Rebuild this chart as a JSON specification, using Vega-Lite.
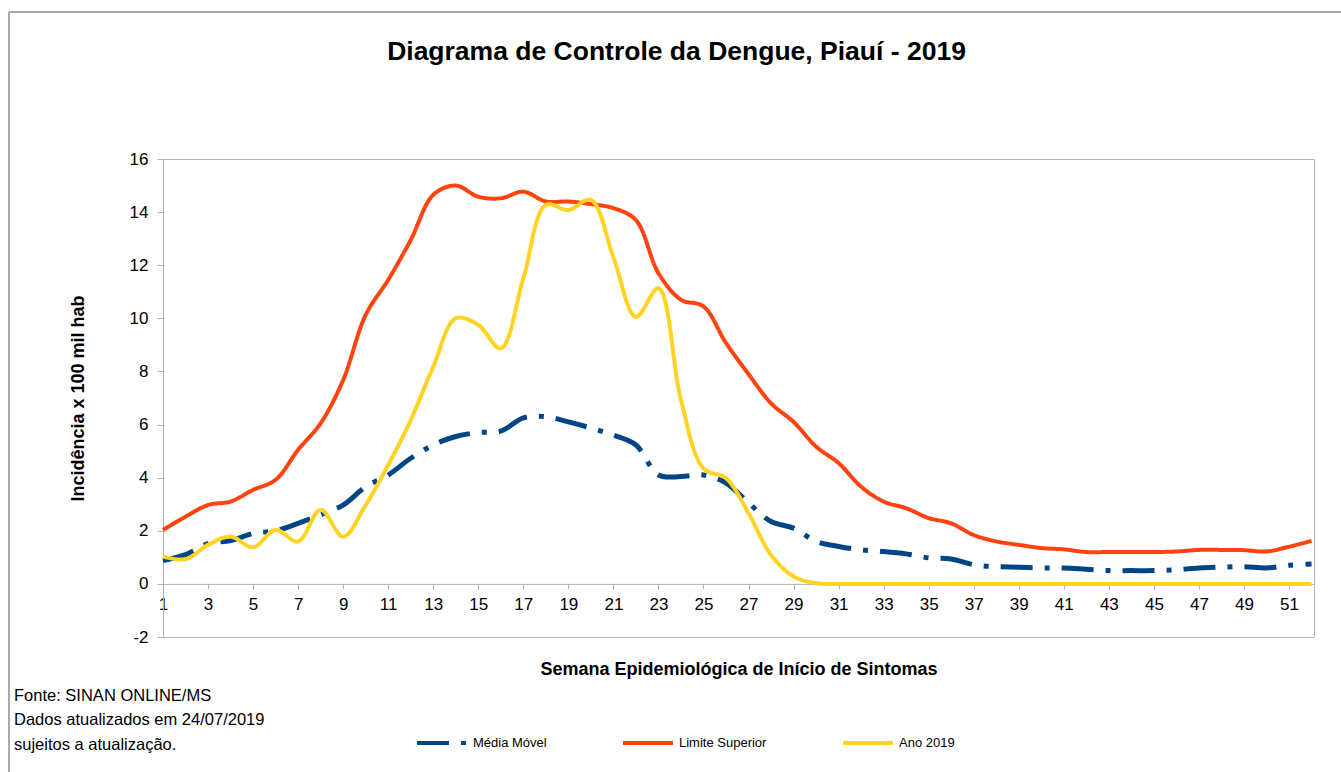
{
  "$schema": "https://vega.github.io/schema/vega-lite/v6.json",
  "width": 1151,
  "height": 478,
  "autosize": "none",
  "padding": {"left": 163, "top": 159, "right": 27, "bottom": 135},
  "background": "white",
  "title": {
    "text": "Diagrama de Controle da Dengue, Piauí - 2019",
    "font": "Liberation Sans",
    "fontSize": 26.5,
    "fontWeight": "bold",
    "color": "black",
    "anchor": "middle",
    "frame": "group",
    "dx": -62,
    "baseline": "alphabetic",
    "offset": -76
  },
  "config": {
    "view": {"stroke": "#b3b3b3", "strokeWidth": 1},
    "axis": {
      "labelFont": "Liberation Sans",
      "labelFontSize": 17,
      "labelColor": "black",
      "titleFont": "Liberation Sans",
      "titleFontSize": 18,
      "titleFontWeight": "bold",
      "titleColor": "black",
      "domainColor": "#b3b3b3",
      "tickColor": "#b3b3b3",
      "gridColor": "#b3b3b3",
      "labelFlush": false,
      "labelOverlap": false
    }
  },
  "datasets": {
    "semanas": [
      {"s": 1, "media": 0.88, "limite": 2.03, "ano": 1.03},
      {"s": 2, "media": 1.1, "limite": 2.53, "ano": 0.93},
      {"s": 3, "media": 1.52, "limite": 2.97, "ano": 1.47},
      {"s": 4, "media": 1.63, "limite": 3.1, "ano": 1.78},
      {"s": 5, "media": 1.9, "limite": 3.54, "ano": 1.38},
      {"s": 6, "media": 2.0, "limite": 3.92, "ano": 2.03},
      {"s": 7, "media": 2.28, "limite": 5.05, "ano": 1.6},
      {"s": 8, "media": 2.6, "limite": 6.05, "ano": 2.79},
      {"s": 9, "media": 2.97, "limite": 7.68, "ano": 1.78},
      {"s": 10, "media": 3.66, "limite": 10.13, "ano": 2.97},
      {"s": 11, "media": 4.1, "limite": 11.45, "ano": 4.48},
      {"s": 12, "media": 4.73, "limite": 12.95, "ano": 6.17},
      {"s": 13, "media": 5.23, "limite": 14.65, "ano": 8.18},
      {"s": 14, "media": 5.55, "limite": 15.0, "ano": 10.0},
      {"s": 15, "media": 5.7, "limite": 14.58, "ano": 9.75},
      {"s": 16, "media": 5.75, "limite": 14.52, "ano": 8.87},
      {"s": 17, "media": 6.25, "limite": 14.77, "ano": 11.5},
      {"s": 18, "media": 6.3, "limite": 14.4, "ano": 14.27},
      {"s": 19, "media": 6.1, "limite": 14.4, "ano": 14.08},
      {"s": 20, "media": 5.87, "limite": 14.3, "ano": 14.46},
      {"s": 21, "media": 5.6, "limite": 14.15, "ano": 12.3},
      {"s": 22, "media": 5.23, "limite": 13.7, "ano": 10.06},
      {"s": 23, "media": 4.1, "limite": 11.7, "ano": 11.13},
      {"s": 24, "media": 4.04, "limite": 10.7, "ano": 6.93},
      {"s": 25, "media": 4.1, "limite": 10.45, "ano": 4.35},
      {"s": 26, "media": 3.8, "limite": 9.07, "ano": 3.98},
      {"s": 27, "media": 3.05, "limite": 7.9, "ano": 2.66},
      {"s": 28, "media": 2.35, "limite": 6.8, "ano": 1.09},
      {"s": 29, "media": 2.1, "limite": 6.1, "ano": 0.28},
      {"s": 30, "media": 1.6, "limite": 5.17, "ano": 0.03},
      {"s": 31, "media": 1.41, "limite": 4.55, "ano": 0},
      {"s": 32, "media": 1.28, "limite": 3.66, "ano": 0},
      {"s": 33, "media": 1.22, "limite": 3.1, "ano": 0},
      {"s": 34, "media": 1.13, "limite": 2.85, "ano": 0},
      {"s": 35, "media": 0.98, "limite": 2.48, "ano": 0},
      {"s": 36, "media": 0.94, "limite": 2.28, "ano": 0},
      {"s": 37, "media": 0.72, "limite": 1.84, "ano": 0},
      {"s": 38, "media": 0.65, "limite": 1.6, "ano": 0},
      {"s": 39, "media": 0.63, "limite": 1.47, "ano": 0},
      {"s": 40, "media": 0.6, "limite": 1.35, "ano": 0},
      {"s": 41, "media": 0.6, "limite": 1.3, "ano": 0},
      {"s": 42, "media": 0.55, "limite": 1.2, "ano": 0},
      {"s": 43, "media": 0.5, "limite": 1.2, "ano": 0},
      {"s": 44, "media": 0.5, "limite": 1.2, "ano": 0},
      {"s": 45, "media": 0.5, "limite": 1.2, "ano": 0},
      {"s": 46, "media": 0.53, "limite": 1.22, "ano": 0},
      {"s": 47, "media": 0.6, "limite": 1.28, "ano": 0},
      {"s": 48, "media": 0.63, "limite": 1.28, "ano": 0},
      {"s": 49, "media": 0.65, "limite": 1.27, "ano": 0},
      {"s": 50, "media": 0.6, "limite": 1.22, "ano": 0},
      {"s": 51, "media": 0.7, "limite": 1.4, "ano": 0},
      {"s": 52, "media": 0.75, "limite": 1.62, "ano": 0}
    ],
    "nota": [
      {"nota": "Fonte: SINAN ONLINE/MS|Dados atualizados  em 24/07/2019|sujeitos a atualização."}
    ]
  },
  "layer": [
    {
      "data": {"name": "nota"},
      "mark": {"type": "rule", "stroke": "#aaaaaa", "strokeWidth": 2, "clip": false},
      "encoding": {
        "x": {"datum": -5.838},
        "x2": {"datum": 60},
        "y": {"datum": 21.54}
      }
    },
    {
      "data": {"name": "nota"},
      "mark": {"type": "rule", "stroke": "#aaaaaa", "strokeWidth": 2, "clip": false},
      "encoding": {
        "x": {"datum": -5.838},
        "y": {"datum": 21.54},
        "y2": {"datum": -8}
      }
    },
    {
      "data": {"name": "semanas"},
      "mark": {"type": "line", "interpolate": "catmull-rom", "strokeWidth": 5, "strokeCap": "butt"},
      "encoding": {
        "x": {
          "field": "s",
          "type": "quantitative",
          "scale": {"domain": [1, 52.11], "nice": false, "zero": false},
          "axis": {
            "title": "Semana Epidemiológica de Início de Sintomas",
            "offset": -53.1,
            "values": [1,2,3,4,5,6,7,8,9,10,11,12,13,14,15,16,17,18,19,20,21,22,23,24,25,26,27,28,29,30,31,32,33,34,35,36,37,38,39,40,41,42,43,44,45,46,47,48,49,50,51,52],
            "labelExpr": "datum.value % 2 == 1 ? '' + datum.value : ''",
            "grid": false,
            "tickSize": 5,
            "labelPadding": 8,
            "titlePadding": 48
          }
        },
        "y": {
          "field": "media",
          "type": "quantitative",
          "scale": {"domain": [-2, 16], "nice": false, "zero": false},
          "axis": {
            "title": "Incidência x 100 mil hab",
            "values": [-2, 0, 2, 4, 6, 8, 10, 12, 14, 16],
            "labelExpr": "'' + datum.value",
            "tickSize": 6,
            "labelPadding": 9,
            "titlePadding": 42
          }
        },
        "color": {
          "datum": "Média Móvel",
          "scale": {"domain": ["Média Móvel", "Limite Superior", "Ano 2019"], "range": ["#004586", "#ff420e", "#ffd320"]},
          "legend": {
            "title": null,
            "orient": "none",
            "legendX": 252,
            "legendY": 557,
            "direction": "horizontal",
            "symbolType": "stroke",
            "symbolSize": 2500,
            "symbolStrokeWidth": 4,
            "labelFont": "Liberation Sans",
            "labelFontSize": 13,
            "labelColor": "black",
            "labelOffset": 4,
            "columnPadding": 68
          }
        },
        "strokeDash": {
          "datum": "Média Móvel",
          "scale": {"domain": ["Média Móvel", "Limite Superior", "Ano 2019"], "range": [[32, 12, 5, 12], [1, 0], [1, 0]]},
          "legend": {"title": null}
        }
      }
    },
    {
      "data": {"name": "semanas"},
      "mark": {"type": "line", "interpolate": "catmull-rom", "strokeWidth": 4},
      "encoding": {
        "x": {"field": "s", "type": "quantitative"},
        "y": {"field": "limite", "type": "quantitative"},
        "color": {"datum": "Limite Superior"},
        "strokeDash": {"datum": "Limite Superior"}
      }
    },
    {
      "data": {"name": "semanas"},
      "mark": {"type": "line", "interpolate": "catmull-rom", "strokeWidth": 4},
      "encoding": {
        "x": {"field": "s", "type": "quantitative"},
        "y": {"field": "ano", "type": "quantitative"},
        "color": {"datum": "Ano 2019"},
        "strokeDash": {"datum": "Ano 2019"}
      }
    },
    {
      "data": {"name": "nota"},
      "mark": {"type": "text", "align": "left", "baseline": "alphabetic", "font": "Liberation Sans", "fontSize": 16.5, "lineHeight": 24.5, "fill": "black", "lineBreak": "|", "clip": false},
      "encoding": {
        "x": {"datum": -5.616},
        "y": {"datum": -4.405},
        "text": {"field": "nota", "type": "nominal"}
      }
    }
  ]
}
